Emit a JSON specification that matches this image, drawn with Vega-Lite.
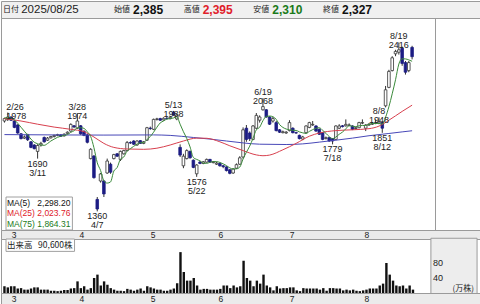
{
  "$schema": "https://vega.github.io/schema/vega-lite/v6.json",
  "padding": 0,
  "spacing": 0,
  "bounds": "flush",
  "background": "white",
  "config": {
    "view": {"stroke": null},
    "font": "Liberation Sans",
    "axis": {"labelFont": "Liberation Sans", "labelColor": "#222222"},
    "concat": {"spacing": 0}
  },
  "datasets": {
    "head": [
      {"k": "日付", "v": "2025/08/25"},
      {"k": "始値", "v": "2,385"},
      {"k": "高値", "v": "2,395"},
      {"k": "安値", "v": "2,310"},
      {"k": "終値", "v": "2,327"}
    ],
    "months": [
      {"i": 4, "m": "3"}, {"i": 24, "m": "4"}, {"i": 45, "m": "5"},
      {"i": 65, "m": "6"}, {"i": 86, "m": "7"}, {"i": 108, "m": "8"}
    ],
    "hi": [
      {"i": 1, "p": 1978, "t": ["2/26", "1978"]},
      {"i": 22, "p": 1974, "t": ["3/28", "1974"]},
      {"i": 51, "p": 1988, "t": ["5/13", "1988"]},
      {"i": 78, "p": 2068, "t": ["6/19", "2068"]},
      {"i": 113, "p": 1948, "t": ["8/8", "1948"]},
      {"i": 119, "p": 2416, "t": ["8/19", "2416"]}
    ],
    "lo": [
      {"i": 10, "p": 1690, "t": ["1690", "3/11"]},
      {"i": 28, "p": 1360, "t": ["1360", "4/7"]},
      {"i": 58, "p": 1576, "t": ["1576", "5/22"]},
      {"i": 99, "p": 1779, "t": ["1779", "7/18"]},
      {"i": 114, "p": 1851, "t": ["1851", "8/12"]}
    ],
    "maleg": [
      {"n": "MA(5)", "val": "2,298.20"},
      {"n": "MA(25)", "val": "2,023.76"},
      {"n": "MA(75)", "val": "1,864.31"}
    ],
    "vlab": [
      {"v": 80, "t": "80"},
      {"v": 40, "t": "40"}
    ],
    "ma25": [
      {"i": 0, "v": 1940}, {"i": 5, "v": 1925}, {"i": 10, "v": 1905}, {"i": 15, "v": 1887},
      {"i": 20, "v": 1873}, {"i": 24, "v": 1858}, {"i": 27, "v": 1825}, {"i": 30, "v": 1785},
      {"i": 33, "v": 1760}, {"i": 37, "v": 1750}, {"i": 42, "v": 1748}, {"i": 46, "v": 1755},
      {"i": 50, "v": 1775}, {"i": 54, "v": 1800}, {"i": 58, "v": 1818}, {"i": 61, "v": 1817},
      {"i": 65, "v": 1795}, {"i": 68, "v": 1770}, {"i": 72, "v": 1740}, {"i": 76, "v": 1713},
      {"i": 78, "v": 1708}, {"i": 80, "v": 1712}, {"i": 84, "v": 1745}, {"i": 88, "v": 1785},
      {"i": 92, "v": 1830}, {"i": 95, "v": 1850}, {"i": 100, "v": 1865}, {"i": 105, "v": 1870},
      {"i": 110, "v": 1877}, {"i": 113, "v": 1893}, {"i": 116, "v": 1930}, {"i": 120, "v": 1985},
      {"i": 123, "v": 2024}
    ],
    "ma75": [
      {"i": 0, "v": 1840}, {"i": 15, "v": 1838}, {"i": 30, "v": 1837}, {"i": 45, "v": 1838},
      {"i": 50, "v": 1835}, {"i": 57, "v": 1822}, {"i": 62, "v": 1812}, {"i": 67, "v": 1800},
      {"i": 72, "v": 1788}, {"i": 77, "v": 1780}, {"i": 85, "v": 1778}, {"i": 90, "v": 1782},
      {"i": 95, "v": 1793}, {"i": 100, "v": 1805}, {"i": 105, "v": 1818}, {"i": 110, "v": 1833},
      {"i": 116, "v": 1847}, {"i": 120, "v": 1857}, {"i": 123, "v": 1864}
    ],
    "ohlc": [
      {"i":0,"d":"2025-02-25","o":1925,"h":1945,"l":1915,"c":1940,"v":18,"ud":"u","m5":1945},
      {"i":1,"d":"2025-02-26","o":1935,"h":1978,"l":1925,"c":1950,"v":15,"ud":"u","m5":1945},
      {"i":2,"d":"2025-02-27","o":1950,"h":1955,"l":1925,"c":1930,"v":18,"ud":"u","m5":1943},
      {"i":3,"d":"2025-02-28","o":1925,"h":1930,"l":1880,"c":1885,"v":18,"ud":"d","m5":1932},
      {"i":4,"d":"2025-03-03","o":1900,"h":1905,"l":1845,"c":1850,"v":12,"ud":"d","m5":1911},
      {"i":5,"d":"2025-03-04","o":1845,"h":1850,"l":1810,"c":1815,"v":13,"ud":"d","m5":1886},
      {"i":6,"d":"2025-03-05","o":1818,"h":1835,"l":1812,"c":1825,"v":9,"ud":"d","m5":1861},
      {"i":7,"d":"2025-03-06","o":1840,"h":1845,"l":1800,"c":1808,"v":9,"ud":"d","m5":1837},
      {"i":8,"d":"2025-03-07","o":1795,"h":1800,"l":1755,"c":1760,"v":12,"ud":"u","m5":1812},
      {"i":9,"d":"2025-03-10","o":1775,"h":1780,"l":1748,"c":1752,"v":15,"ud":"u","m5":1792},
      {"i":10,"d":"2025-03-11","o":1735,"h":1780,"l":1690,"c":1772,"v":15,"ud":"u","m5":1783},
      {"i":11,"d":"2025-03-12","o":1775,"h":1795,"l":1765,"c":1785,"v":9,"ud":"d","m5":1775},
      {"i":12,"d":"2025-03-13","o":1822,"h":1828,"l":1790,"c":1795,"v":9,"ud":"u","m5":1773},
      {"i":13,"d":"2025-03-14","o":1805,"h":1825,"l":1800,"c":1818,"v":9,"ud":"u","m5":1784},
      {"i":14,"d":"2025-03-17","o":1820,"h":1832,"l":1815,"c":1828,"v":6,"ud":"u","m5":1800},
      {"i":15,"d":"2025-03-18","o":1828,"h":1840,"l":1822,"c":1835,"v":6,"ud":"u","m5":1812},
      {"i":16,"d":"2025-03-19","o":1835,"h":1845,"l":1830,"c":1840,"v":5,"ud":"u","m5":1823},
      {"i":17,"d":"2025-03-21","o":1838,"h":1842,"l":1825,"c":1830,"v":6,"ud":"u","m5":1830},
      {"i":18,"d":"2025-03-24","o":1832,"h":1848,"l":1828,"c":1842,"v":8,"ud":"u","m5":1835},
      {"i":19,"d":"2025-03-25","o":1848,"h":1860,"l":1845,"c":1855,"v":8,"ud":"u","m5":1840},
      {"i":20,"d":"2025-03-26","o":1862,"h":1910,"l":1858,"c":1904,"v":12,"ud":"u","m5":1854},
      {"i":21,"d":"2025-03-27","o":1895,"h":1900,"l":1880,"c":1888,"v":13,"ud":"u","m5":1864},
      {"i":22,"d":"2025-03-28","o":1880,"h":1974,"l":1875,"c":1925,"v":31,"ud":"u","m5":1883},
      {"i":23,"d":"2025-03-31","o":1895,"h":1900,"l":1838,"c":1845,"v":13,"ud":"d","m5":1883},
      {"i":24,"d":"2025-04-01","o":1860,"h":1868,"l":1830,"c":1835,"v":18,"ud":"d","m5":1879},
      {"i":25,"d":"2025-04-02","o":1838,"h":1845,"l":1785,"c":1792,"v":9,"ud":"u","m5":1857},
      {"i":26,"d":"2025-04-03","o":1690,"h":1755,"l":1685,"c":1748,"v":13,"ud":"d","m5":1829},
      {"i":27,"d":"2025-04-04","o":1706,"h":1712,"l":1565,"c":1571,"v":40,"ud":"d","m5":1758},
      {"i":28,"d":"2025-04-07","o":1435,"h":1450,"l":1360,"c":1375,"v":49,"ud":"d","m5":1664},
      {"i":29,"d":"2025-04-08","o":1550,"h":1600,"l":1540,"c":1594,"v":20,"ud":"u","m5":1616},
      {"i":30,"d":"2025-04-09","o":1550,"h":1555,"l":1450,"c":1469,"v":31,"ud":"d","m5":1551},
      {"i":31,"d":"2025-04-10","o":1600,"h":1690,"l":1595,"c":1675,"v":22,"ud":"u","m5":1537},
      {"i":32,"d":"2025-04-11","o":1655,"h":1665,"l":1595,"c":1605,"v":13,"ud":"u","m5":1544},
      {"i":33,"d":"2025-04-14","o":1690,"h":1720,"l":1685,"c":1715,"v":9,"ud":"u","m5":1612},
      {"i":34,"d":"2025-04-15","o":1720,"h":1725,"l":1700,"c":1705,"v":6,"ud":"u","m5":1634},
      {"i":35,"d":"2025-04-16","o":1685,"h":1740,"l":1675,"c":1735,"v":6,"ud":"u","m5":1687},
      {"i":36,"d":"2025-04-17","o":1720,"h":1745,"l":1715,"c":1740,"v":5,"ud":"u","m5":1700},
      {"i":37,"d":"2025-04-18","o":1740,"h":1800,"l":1735,"c":1790,"v":11,"ud":"u","m5":1737},
      {"i":38,"d":"2025-04-21","o":1790,"h":1798,"l":1782,"c":1788,"v":9,"ud":"u","m5":1752},
      {"i":39,"d":"2025-04-22","o":1800,"h":1805,"l":1775,"c":1780,"v":6,"ud":"u","m5":1767},
      {"i":40,"d":"2025-04-23","o":1775,"h":1805,"l":1770,"c":1800,"v":9,"ud":"d","m5":1780},
      {"i":41,"d":"2025-04-24","o":1802,"h":1806,"l":1782,"c":1785,"v":12,"ud":"u","m5":1789},
      {"i":42,"d":"2025-04-25","o":1785,"h":1800,"l":1780,"c":1795,"v":6,"ud":"u","m5":1790},
      {"i":43,"d":"2025-04-28","o":1805,"h":1888,"l":1800,"c":1883,"v":18,"ud":"u","m5":1809},
      {"i":44,"d":"2025-04-30","o":1880,"h":1890,"l":1870,"c":1878,"v":15,"ud":"u","m5":1828},
      {"i":45,"d":"2025-05-01","o":1873,"h":1940,"l":1868,"c":1935,"v":12,"ud":"u","m5":1855},
      {"i":46,"d":"2025-05-02","o":1935,"h":1945,"l":1928,"c":1938,"v":9,"ud":"d","m5":1886},
      {"i":47,"d":"2025-05-07","o":1940,"h":1945,"l":1925,"c":1930,"v":9,"ud":"u","m5":1913},
      {"i":48,"d":"2025-05-08","o":1932,"h":1948,"l":1928,"c":1942,"v":6,"ud":"d","m5":1925},
      {"i":49,"d":"2025-05-09","o":1942,"h":1950,"l":1935,"c":1940,"v":6,"ud":"d","m5":1937},
      {"i":50,"d":"2025-05-12","o":1940,"h":1952,"l":1935,"c":1948,"v":9,"ud":"u","m5":1940},
      {"i":51,"d":"2025-05-13","o":1980,"h":1988,"l":1958,"c":1962,"v":12,"ud":"u","m5":1944},
      {"i":52,"d":"2025-05-14","o":1938,"h":1970,"l":1930,"c":1962,"v":26,"ud":"u","m5":1951},
      {"i":53,"d":"2025-05-15","o":1760,"h":1779,"l":1700,"c":1712,"v":109,"ud":"d","m5":1905},
      {"i":54,"d":"2025-05-16","o":1645,"h":1720,"l":1630,"c":1705,"v":56,"ud":"u","m5":1858},
      {"i":55,"d":"2025-05-19","o":1690,"h":1748,"l":1685,"c":1740,"v":33,"ud":"u","m5":1816},
      {"i":56,"d":"2025-05-20","o":1735,"h":1740,"l":1690,"c":1695,"v":33,"ud":"d","m5":1763},
      {"i":57,"d":"2025-05-21","o":1680,"h":1685,"l":1630,"c":1635,"v":40,"ud":"d","m5":1697},
      {"i":58,"d":"2025-05-22","o":1595,"h":1655,"l":1576,"c":1650,"v":20,"ud":"u","m5":1685},
      {"i":59,"d":"2025-05-23","o":1668,"h":1675,"l":1655,"c":1660,"v":9,"ud":"d","m5":1676},
      {"i":60,"d":"2025-05-26","o":1660,"h":1675,"l":1655,"c":1670,"v":11,"ud":"u","m5":1662},
      {"i":61,"d":"2025-05-27","o":1668,"h":1690,"l":1665,"c":1685,"v":11,"ud":"u","m5":1660},
      {"i":62,"d":"2025-05-28","o":1685,"h":1688,"l":1665,"c":1668,"v":9,"ud":"d","m5":1667},
      {"i":63,"d":"2025-05-29","o":1665,"h":1675,"l":1660,"c":1670,"v":9,"ud":"u","m5":1671},
      {"i":64,"d":"2025-05-30","o":1655,"h":1670,"l":1650,"c":1662,"v":9,"ud":"u","m5":1671},
      {"i":65,"d":"2025-06-02","o":1660,"h":1665,"l":1640,"c":1645,"v":11,"ud":"u","m5":1666},
      {"i":66,"d":"2025-06-03","o":1645,"h":1650,"l":1630,"c":1640,"v":20,"ud":"d","m5":1657},
      {"i":67,"d":"2025-06-04","o":1638,"h":1642,"l":1610,"c":1615,"v":20,"ud":"d","m5":1646},
      {"i":68,"d":"2025-06-05","o":1620,"h":1625,"l":1592,"c":1598,"v":13,"ud":"d","m5":1632},
      {"i":69,"d":"2025-06-06","o":1600,"h":1630,"l":1595,"c":1625,"v":20,"ud":"u","m5":1625},
      {"i":70,"d":"2025-06-09","o":1630,"h":1660,"l":1625,"c":1652,"v":15,"ud":"u","m5":1626},
      {"i":71,"d":"2025-06-10","o":1655,"h":1705,"l":1650,"c":1695,"v":18,"ud":"u","m5":1637},
      {"i":72,"d":"2025-06-11","o":1700,"h":1885,"l":1690,"c":1870,"v":86,"ud":"u","m5":1688},
      {"i":73,"d":"2025-06-12","o":1880,"h":1900,"l":1795,"c":1810,"v":40,"ud":"u","m5":1730},
      {"i":74,"d":"2025-06-13","o":1850,"h":1860,"l":1800,"c":1815,"v":33,"ud":"d","m5":1768},
      {"i":75,"d":"2025-06-16","o":1810,"h":1900,"l":1805,"c":1894,"v":18,"ud":"u","m5":1817},
      {"i":76,"d":"2025-06-17","o":1880,"h":1975,"l":1875,"c":1960,"v":33,"ud":"u","m5":1870},
      {"i":77,"d":"2025-06-18","o":1930,"h":1960,"l":1915,"c":1950,"v":25,"ud":"d","m5":1886},
      {"i":78,"d":"2025-06-19","o":1995,"h":2068,"l":1990,"c":2015,"v":49,"ud":"u","m5":1927},
      {"i":79,"d":"2025-06-20","o":1995,"h":2000,"l":1945,"c":1950,"v":20,"ud":"d","m5":1954},
      {"i":80,"d":"2025-06-23","o":1950,"h":1955,"l":1900,"c":1905,"v":15,"ud":"d","m5":1956},
      {"i":81,"d":"2025-06-24","o":1925,"h":1950,"l":1915,"c":1940,"v":7,"ud":"d","m5":1952},
      {"i":82,"d":"2025-06-25","o":1915,"h":1925,"l":1860,"c":1865,"v":18,"ud":"d","m5":1935},
      {"i":83,"d":"2025-06-26","o":1870,"h":1875,"l":1850,"c":1855,"v":12,"ud":"d","m5":1903},
      {"i":84,"d":"2025-06-27","o":1852,"h":1865,"l":1848,"c":1858,"v":13,"ud":"u","m5":1885},
      {"i":85,"d":"2025-06-30","o":1850,"h":1862,"l":1845,"c":1855,"v":13,"ud":"u","m5":1875},
      {"i":86,"d":"2025-07-01","o":1865,"h":1930,"l":1860,"c":1915,"v":15,"ud":"u","m5":1870},
      {"i":87,"d":"2025-07-02","o":1880,"h":1885,"l":1848,"c":1852,"v":15,"ud":"u","m5":1867},
      {"i":88,"d":"2025-07-03","o":1852,"h":1858,"l":1845,"c":1850,"v":7,"ud":"u","m5":1866},
      {"i":89,"d":"2025-07-04","o":1835,"h":1840,"l":1810,"c":1815,"v":5,"ud":"d","m5":1857},
      {"i":90,"d":"2025-07-07","o":1812,"h":1832,"l":1805,"c":1825,"v":13,"ud":"u","m5":1851},
      {"i":91,"d":"2025-07-08","o":1852,"h":1898,"l":1848,"c":1894,"v":12,"ud":"d","m5":1847},
      {"i":92,"d":"2025-07-09","o":1885,"h":1920,"l":1880,"c":1915,"v":12,"ud":"u","m5":1860},
      {"i":93,"d":"2025-07-10","o":1900,"h":1925,"l":1895,"c":1904,"v":12,"ud":"u","m5":1871},
      {"i":94,"d":"2025-07-11","o":1894,"h":1898,"l":1858,"c":1862,"v":12,"ud":"d","m5":1880},
      {"i":95,"d":"2025-07-14","o":1873,"h":1878,"l":1838,"c":1842,"v":9,"ud":"u","m5":1883},
      {"i":96,"d":"2025-07-15","o":1852,"h":1855,"l":1805,"c":1810,"v":13,"ud":"d","m5":1867},
      {"i":97,"d":"2025-07-16","o":1815,"h":1828,"l":1810,"c":1821,"v":6,"ud":"u","m5":1848},
      {"i":98,"d":"2025-07-17","o":1821,"h":1825,"l":1795,"c":1800,"v":13,"ud":"d","m5":1827},
      {"i":99,"d":"2025-07-18","o":1815,"h":1818,"l":1779,"c":1800,"v":13,"ud":"d","m5":1815},
      {"i":100,"d":"2025-07-22","o":1810,"h":1898,"l":1805,"c":1894,"v":12,"ud":"u","m5":1825},
      {"i":101,"d":"2025-07-23","o":1880,"h":1905,"l":1875,"c":1894,"v":12,"ud":"u","m5":1842},
      {"i":102,"d":"2025-07-24","o":1895,"h":1900,"l":1885,"c":1890,"v":7,"ud":"d","m5":1856},
      {"i":103,"d":"2025-07-25","o":1895,"h":1935,"l":1890,"c":1904,"v":9,"ud":"u","m5":1876},
      {"i":104,"d":"2025-07-28","o":1898,"h":1910,"l":1892,"c":1900,"v":7,"ud":"u","m5":1896},
      {"i":105,"d":"2025-07-29","o":1894,"h":1898,"l":1868,"c":1873,"v":9,"ud":"d","m5":1892},
      {"i":106,"d":"2025-07-30","o":1878,"h":1888,"l":1872,"c":1883,"v":6,"ud":"u","m5":1890},
      {"i":107,"d":"2025-07-31","o":1883,"h":1920,"l":1880,"c":1915,"v":5,"ud":"u","m5":1895},
      {"i":108,"d":"2025-08-01","o":1912,"h":1935,"l":1905,"c":1915,"v":7,"ud":"u","m5":1897},
      {"i":109,"d":"2025-08-04","o":1880,"h":1905,"l":1862,"c":1900,"v":9,"ud":"d","m5":1897},
      {"i":110,"d":"2025-08-05","o":1900,"h":1912,"l":1895,"c":1905,"v":12,"ud":"d","m5":1904},
      {"i":111,"d":"2025-08-06","o":1905,"h":1918,"l":1900,"c":1910,"v":12,"ud":"d","m5":1909},
      {"i":112,"d":"2025-08-07","o":1910,"h":1935,"l":1905,"c":1915,"v":12,"ud":"u","m5":1909},
      {"i":113,"d":"2025-08-08","o":1912,"h":1948,"l":1905,"c":1920,"v":20,"ud":"u","m5":1910},
      {"i":114,"d":"2025-08-12","o":1915,"h":1920,"l":1851,"c":1880,"v":25,"ud":"d","m5":1906},
      {"i":115,"d":"2025-08-13","o":2020,"h":2144,"l":2010,"c":2120,"v":80,"ud":"u","m5":1949},
      {"i":116,"d":"2025-08-14","o":2135,"h":2245,"l":2130,"c":2235,"v":49,"ud":"u","m5":2014},
      {"i":117,"d":"2025-08-15","o":2240,"h":2330,"l":2235,"c":2320,"v":33,"ud":"u","m5":2095},
      {"i":118,"d":"2025-08-18","o":2345,"h":2370,"l":2330,"c":2360,"v":20,"ud":"u","m5":2183},
      {"i":119,"d":"2025-08-19","o":2355,"h":2416,"l":2340,"c":2370,"v":18,"ud":"u","m5":2281},
      {"i":120,"d":"2025-08-20","o":2380,"h":2390,"l":2270,"c":2285,"v":20,"ud":"d","m5":2314},
      {"i":121,"d":"2025-08-21","o":2290,"h":2300,"l":2215,"c":2230,"v":12,"ud":"d","m5":2313},
      {"i":122,"d":"2025-08-22","o":2240,"h":2300,"l":2230,"c":2290,"v":20,"ud":"u","m5":2307},
      {"i":123,"d":"2025-08-25","o":2385,"h":2395,"l":2310,"c":2327,"v":9,"ud":"u","m5":2298.2}
    ]
  },
  "vconcat": [
    {
      "width": 480,
      "height": 17,
      "view": {"fill": "#f0f0f0", "stroke": "#9a9a9a"},
      "data": {"name": "head"},
      "encoding": {
        "x": {"field": "k", "type": "nominal", "scale": {"type": "point", "padding": 0, "domain": ["日付", "_", "始値", "高値", "安値", "終値"], "range": [-26.3, 322]}, "axis": null}
      },
      "layer": [
        {
          "transform": [{"filter": "datum.k == '日付'"}],
          "mark": {"type": "text", "align": "left", "baseline": "middle", "dx": 28.3, "font": "Noto Sans CJK JP", "fontSize": 8, "color": "#222222"},
          "encoding": {"text": {"field": "k"}}
        },
        {
          "transform": [{"filter": "datum.k == '日付'"}],
          "mark": {"type": "text", "align": "left", "baseline": "middle", "dx": 46.5, "fontSize": 11.5, "color": "#222222"},
          "encoding": {"text": {"field": "v"}}
        },
        {
          "transform": [{"filter": "datum.k != '日付'"}],
          "mark": {"type": "text", "align": "left", "baseline": "middle", "font": "Noto Sans CJK JP", "fontSize": 8, "color": "#222222"},
          "encoding": {"text": {"field": "k"}}
        },
        {
          "transform": [{"filter": "datum.k != '日付'"}],
          "mark": {"type": "text", "align": "left", "baseline": "middle", "dx": 19, "fontSize": 12, "fontWeight": "bold"},
          "encoding": {
            "text": {"field": "v"},
            "color": {"field": "k", "type": "nominal", "scale": {"domain": ["始値", "高値", "安値", "終値"], "range": ["#111111", "#e0202a", "#1a7a1a", "#111111"]}, "legend": null}
          }
        }
      ]
    },
    {
      "width": 434,
      "height": 212,
      "view": {"stroke": "#9a9a9a"},
      "layer": [
        {
          "data": {"name": "ohlc"},
          "mark": {"type": "rule", "color": "#333333", "strokeWidth": 1, "clip": true},
          "encoding": {
            "x": {"field": "i", "type": "quantitative", "scale": {"domain": [0.465, 128.4], "nice": false, "zero": false},
                  "axis": {"values": [4, 24, 45, 65, 86, 108], "grid": true, "gridColor": "#d9d9d9", "labels": false, "ticks": false, "domain": false, "title": null}},
            "y": {"field": "l", "type": "quantitative", "scale": {"domain": [1243.75, 2568.75], "nice": false, "zero": false},
                  "axis": {"orient": "right", "values": [1400, 1600, 1800, 2000, 2200, 2400], "grid": true, "gridColor": "#d9d9d9", "ticks": false, "domain": false, "labelFontSize": 9, "labelPadding": 2, "title": null}},
            "y2": {"field": "h"}
          }
        },
        {
          "data": {"name": "ohlc"},
          "mark": {"type": "bar", "width": 2.6, "strokeWidth": 0.8, "clip": true},
          "encoding": {
            "x": {"field": "i", "type": "quantitative", "axis": null},
            "y": {"field": "o", "type": "quantitative", "axis": null},
            "y2": {"field": "c"},
            "fill": {"condition": {"test": "datum.c >= datum.o", "value": "#ffffff"}, "value": "#1c1c84"},
            "stroke": {"condition": {"test": "datum.c >= datum.o", "value": "#333333"}, "value": "#1c1c84"}
          }
        },
        {
          "data": {"name": "ma75"},
          "mark": {"type": "line", "color": "#4848b8", "strokeWidth": 1, "interpolate": "monotone", "clip": true},
          "encoding": {
            "x": {"field": "i", "type": "quantitative", "axis": null},
            "y": {"field": "v", "type": "quantitative", "axis": null}
          }
        },
        {
          "data": {"name": "ma25"},
          "mark": {"type": "line", "color": "#d8404e", "strokeWidth": 1, "interpolate": "monotone", "clip": true},
          "encoding": {
            "x": {"field": "i", "type": "quantitative", "axis": null},
            "y": {"field": "v", "type": "quantitative", "axis": null}
          }
        },
        {
          "data": {"name": "ohlc"},
          "mark": {"type": "line", "color": "#3a8a3a", "strokeWidth": 1, "interpolate": "monotone", "clip": true},
          "encoding": {
            "x": {"field": "i", "type": "quantitative", "axis": null},
            "y": {"field": "m5", "type": "quantitative", "axis": null}
          }
        },
        {
          "data": {"name": "hi"},
          "transform": [{"filter": "datum.i < 3"}],
          "mark": {"type": "text", "align": "left", "baseline": "bottom", "dx": -1.6, "dy": -1, "fontSize": 9, "lineHeight": 9, "color": "#222222", "clip": true},
          "encoding": {
            "x": {"field": "i", "type": "quantitative", "axis": null},
            "y": {"field": "p", "type": "quantitative", "axis": null},
            "text": {"field": "t"}
          }
        },
        {
          "data": {"name": "hi"},
          "transform": [{"filter": "datum.i >= 3"}],
          "mark": {"type": "text", "align": "center", "baseline": "bottom", "dy": -1, "fontSize": 9, "lineHeight": 9, "color": "#222222", "clip": true},
          "encoding": {
            "x": {"field": "i", "type": "quantitative", "axis": null},
            "y": {"field": "p", "type": "quantitative", "axis": null},
            "text": {"field": "t"}
          }
        },
        {
          "data": {"name": "lo"},
          "mark": {"type": "text", "align": "center", "baseline": "top", "dy": 1, "fontSize": 9, "lineHeight": 9, "color": "#222222", "clip": true},
          "encoding": {
            "x": {"field": "i", "type": "quantitative", "axis": null},
            "y": {"field": "p", "type": "quantitative", "axis": null},
            "text": {"field": "t"}
          }
        },
        {
          "data": {"values": [{"box": "ma"}]},
          "mark": {"type": "rect", "fill": "#ffffff", "stroke": "#a0a0a0", "strokeWidth": 1},
          "encoding": {
            "x": {"datum": 0.465, "type": "quantitative", "axis": null},
            "x2": {"datum": 20.5},
            "y": {"datum": 1450, "type": "quantitative", "axis": null},
            "y2": {"datum": 1243.75}
          }
        },
        {
          "data": {"name": "maleg"},
          "transform": [{"filter": "datum.n == 'MA(5)'"}],
          "encoding": {
            "y": {"datum": 1415, "type": "quantitative", "axis": null},
            "color": {"field": "n", "type": "nominal", "scale": {"domain": ["MA(5)", "MA(25)", "MA(75)"], "range": ["#2e7d32", "#d3303c", "#3535a8"]}, "legend": null}
          },
          "layer": [
            {"mark": {"type": "text", "align": "left", "baseline": "middle", "dx": 1, "fontSize": 8.5},
             "encoding": {"x": {"datum": 0.465, "type": "quantitative", "axis": null}, "text": {"field": "n"}}},
            {"mark": {"type": "text", "align": "right", "baseline": "middle", "dx": -2, "fontSize": 8.5},
             "encoding": {"x": {"datum": 20.5, "type": "quantitative", "axis": null}, "text": {"field": "val"}}}
          ]
        },
        {
          "data": {"name": "maleg"},
          "transform": [{"filter": "datum.n == 'MA(25)'"}],
          "encoding": {
            "y": {"datum": 1350, "type": "quantitative", "axis": null},
            "color": {"field": "n", "type": "nominal", "legend": null}
          },
          "layer": [
            {"mark": {"type": "text", "align": "left", "baseline": "middle", "dx": 1, "fontSize": 8.5},
             "encoding": {"x": {"datum": 0.465, "type": "quantitative", "axis": null}, "text": {"field": "n"}}},
            {"mark": {"type": "text", "align": "right", "baseline": "middle", "dx": -2, "fontSize": 8.5},
             "encoding": {"x": {"datum": 20.5, "type": "quantitative", "axis": null}, "text": {"field": "val"}}}
          ]
        },
        {
          "data": {"name": "maleg"},
          "transform": [{"filter": "datum.n == 'MA(75)'"}],
          "encoding": {
            "y": {"datum": 1284, "type": "quantitative", "axis": null},
            "color": {"field": "n", "type": "nominal", "legend": null}
          },
          "layer": [
            {"mark": {"type": "text", "align": "left", "baseline": "middle", "dx": 1, "fontSize": 8.5},
             "encoding": {"x": {"datum": 0.465, "type": "quantitative", "axis": null}, "text": {"field": "n"}}},
            {"mark": {"type": "text", "align": "right", "baseline": "middle", "dx": -2, "fontSize": 8.5},
             "encoding": {"x": {"datum": 20.5, "type": "quantitative", "axis": null}, "text": {"field": "val"}}}
          ]
        }
      ]
    },
    {
      "width": 480,
      "height": 9,
      "view": {"fill": "#ebebeb", "stroke": "#9a9a9a"},
      "data": {"name": "months"},
      "mark": {"type": "text", "baseline": "middle", "dx": 1, "fontSize": 8.5, "color": "#222222"},
      "encoding": {
        "x": {"field": "i", "type": "quantitative", "scale": {"domain": [0.465, 141.98], "nice": false, "zero": false}, "axis": null},
        "text": {"field": "m"}
      }
    },
    {
      "width": 480,
      "height": 54,
      "view": {"stroke": "#9a9a9a"},
      "layer": [
        {
          "data": {"name": "ohlc"},
          "mark": {"type": "bar", "width": 2.4, "clip": true},
          "encoding": {
            "x": {"field": "i", "type": "quantitative", "scale": {"domain": [0.465, 141.98], "nice": false, "zero": false},
                  "axis": {"values": [4, 24, 45, 65, 86, 108], "grid": true, "gridColor": "#d9d9d9", "labels": false, "ticks": false, "domain": false, "title": null}},
            "y": {"field": "v", "type": "quantitative", "scale": {"domain": [0, 144], "nice": false},
                  "axis": {"values": [40, 80], "grid": true, "gridColor": "#d9d9d9", "labels": false, "ticks": false, "domain": false, "title": null}},
            "color": {"field": "ud", "type": "nominal", "scale": {"domain": ["u", "d"], "range": ["#e3304b", "#1c1c84"]}, "legend": null}
          }
        },
        {
          "data": {"values": [{"box": "side"}]},
          "mark": {"type": "rect", "fill": "#ededed", "stroke": "#9a9a9a", "strokeWidth": 1},
          "encoding": {
            "x": {"datum": 128.4, "type": "quantitative", "axis": null},
            "x2": {"datum": 142.3},
            "y": {"datum": -2, "type": "quantitative", "axis": null},
            "y2": {"datum": 146}
          }
        },
        {
          "data": {"name": "vlab"},
          "mark": {"type": "text", "align": "left", "baseline": "middle", "dx": 2, "fontSize": 9, "color": "#222222"},
          "encoding": {
            "x": {"datum": 128.4, "type": "quantitative", "axis": null},
            "y": {"field": "v", "type": "quantitative", "axis": null},
            "text": {"field": "t"}
          }
        },
        {
          "data": {"values": [{"t": "(万株)"}]},
          "mark": {"type": "text", "align": "right", "baseline": "bottom", "dx": -2, "font": "Noto Sans CJK JP", "fontSize": 8, "color": "#222222"},
          "encoding": {
            "x": {"datum": 141.98, "type": "quantitative", "axis": null},
            "y": {"datum": 0, "type": "quantitative", "axis": null},
            "text": {"field": "t"}
          }
        },
        {
          "data": {"values": [{"box": "vol"}]},
          "mark": {"type": "rect", "fill": "#ffffff", "stroke": "#a0a0a0", "strokeWidth": 1},
          "encoding": {
            "x": {"datum": 0.465, "type": "quantitative", "axis": null},
            "x2": {"datum": 21.1},
            "y": {"datum": 144, "type": "quantitative", "axis": null},
            "y2": {"datum": 111}
          }
        },
        {
          "data": {"values": [{"t": "出来高", "n": "90,600株"}]},
          "encoding": {"y": {"datum": 127, "type": "quantitative", "axis": null}},
          "layer": [
            {"mark": {"type": "text", "align": "left", "baseline": "middle", "dx": 1, "font": "Noto Sans CJK JP", "fontSize": 8.5, "color": "#222222"},
             "encoding": {"x": {"datum": 0.465, "type": "quantitative", "axis": null}, "text": {"field": "t"}}},
            {"mark": {"type": "text", "align": "right", "baseline": "middle", "dx": -2, "font": "Noto Sans CJK JP", "fontSize": 8.5, "color": "#222222"},
             "encoding": {"x": {"datum": 21.1, "type": "quantitative", "axis": null}, "text": {"field": "n"}}}
          ]
        }
      ]
    },
    {
      "width": 480,
      "height": 12,
      "view": {"fill": "#ebebeb", "stroke": "#9a9a9a"},
      "data": {"name": "months"},
      "mark": {"type": "text", "baseline": "middle", "dx": 1, "fontSize": 8.5, "color": "#222222"},
      "encoding": {
        "x": {"field": "i", "type": "quantitative", "scale": {"domain": [0.465, 141.98], "nice": false, "zero": false}, "axis": null},
        "text": {"field": "m"}
      }
    }
  ]
}
